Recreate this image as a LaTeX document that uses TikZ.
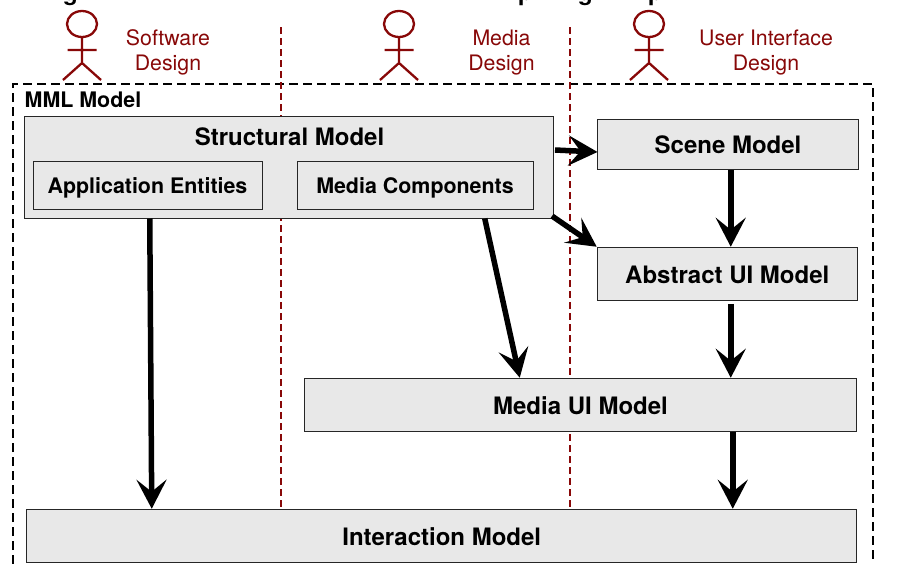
\documentclass[tikz,border=0pt]{standalone}
\usepackage{fontspec}
\setmainfont{TeX Gyre Heros}
\usetikzlibrary{arrows.meta}
\definecolor{dred}{HTML}{880808}
\definecolor{boxgray}{HTML}{E8E8E8}
\tikzset{
  modelbox/.style={draw=black!85,fill=boxgray,line width=1pt,inner sep=0pt,anchor=north west,text height=18.5pt,text depth=0pt,font=\fontsize{24}{24}\bfseries\selectfont},
  subbox/.style={modelbox,text height=16.5pt,font=\fontsize{21.4}{21.4}\bfseries\selectfont},
  flow/.style={line width=5.5pt,-{Stealth[length=29pt,width=30pt,inset=12pt]}},
  lane/.style={dred,line width=1.5pt,dash pattern=on 6.5pt off 4.5pt},
  frame/.style={black,line width=2.8pt,dash pattern=on 9pt off 5pt},
  actorline/.style={dred,line width=2.3pt},
  role/.style={dred,font=\fontsize{21.3}{25}\selectfont,align=center,inner sep=0pt},
  frag/.style={anchor=base west,inner sep=0pt,font=\fontsize{24}{24}\bfseries\selectfont},
  actor/.pic={
    \draw[actorline] (0,24) ellipse (15 and 13);
    \draw[actorline] (0,37) -- (0,63) (-14.5,50) -- (14.5,50) (-19,80) -- (0,63) -- (19,80);
  }
}
\begin{document}
\begin{tikzpicture}[x=1pt,y=-1pt]
\useasboundingbox (0,0) rectangle (900,563);
\fill[white] (0,0) rectangle (900,563);
\begin{scope}
\clip (0,0) rectangle (900,563);
\node[frag] (t1) at (63,0) {g};
\node[frag] (t2) at (518,0) {p};
\node[frag] (t3) at (578,0) {g};
\node[frag] (t4) at (648,0) {p};
\draw[frame] (13,620) -- (13,84) -- (873,84) -- (873,620);
\end{scope}
\draw[lane] (281,27) -- (281,509);
\draw[lane] (570,27) -- (570,509);
\pic at (82,0) {actor};
\pic at (399,0) {actor};
\pic at (649,0) {actor};
\node[role] (r1) at (168,52.5) {Software\\Design};
\node[role] (r2) at (501.5,52.5) {Media\\Design};
\node[role] (r3) at (766,52.5) {User Interface\\Design};
\node[anchor=base west,inner sep=0pt,font=\fontsize{21.4}{21}\bfseries\selectfont] (mml) at (24.5,107) {MML Model};
\node[modelbox,minimum width=529.5pt,minimum height=102pt] (sm) at (23.75,115.5) {};
\node[inner sep=0pt,font=\fontsize{24}{24}\bfseries\selectfont] (smt) at (289.5,137) {Structural Model};
\node[subbox,minimum width=229pt,minimum height=48.5pt] (ae) at (32.5,160.5) {Application Entities};
\node[subbox,minimum width=236pt,minimum height=48.5pt] (mc) at (296.5,160.5) {Media Components};
\node[modelbox,minimum width=261.5pt,minimum height=50pt] (sc) at (596.75,119) {Scene Model};
\node[modelbox,minimum width=260pt,minimum height=53pt] (ab) at (596.75,246.75) {Abstract UI Model};
\node[modelbox,minimum width=552.5pt,minimum height=53pt] (mu) at (303.75,377.75) {Media UI Model};
\node[modelbox,minimum width=830pt,minimum height=53pt] (im) at (26.25,508.75) {Interaction Model};
\draw[flow] ([shift={(266,-17)}]sm.center) -- ([shift={(-130.5,7.5)}]sc.center);
\draw[flow] ([shift={(263,49)}]sm.center) -- (ab.north west);
\draw[flow] ([xshift=195.75]sm.south) -- ([xshift=-60.75]mu.north);
\draw[flow] ([xshift=-139.25]sm.south) -- ([xshift=-290]im.north);
\draw[flow] ([xshift=2.75]sc.south) -- ([xshift=3.5]ab.north);
\draw[flow] ([shift={(3.5,3)}]ab.south) -- ([xshift=150.25]mu.north);
\draw[flow] ([xshift=152.25]mu.south) -- ([xshift=291]im.north);
\end{tikzpicture}
\end{document}
